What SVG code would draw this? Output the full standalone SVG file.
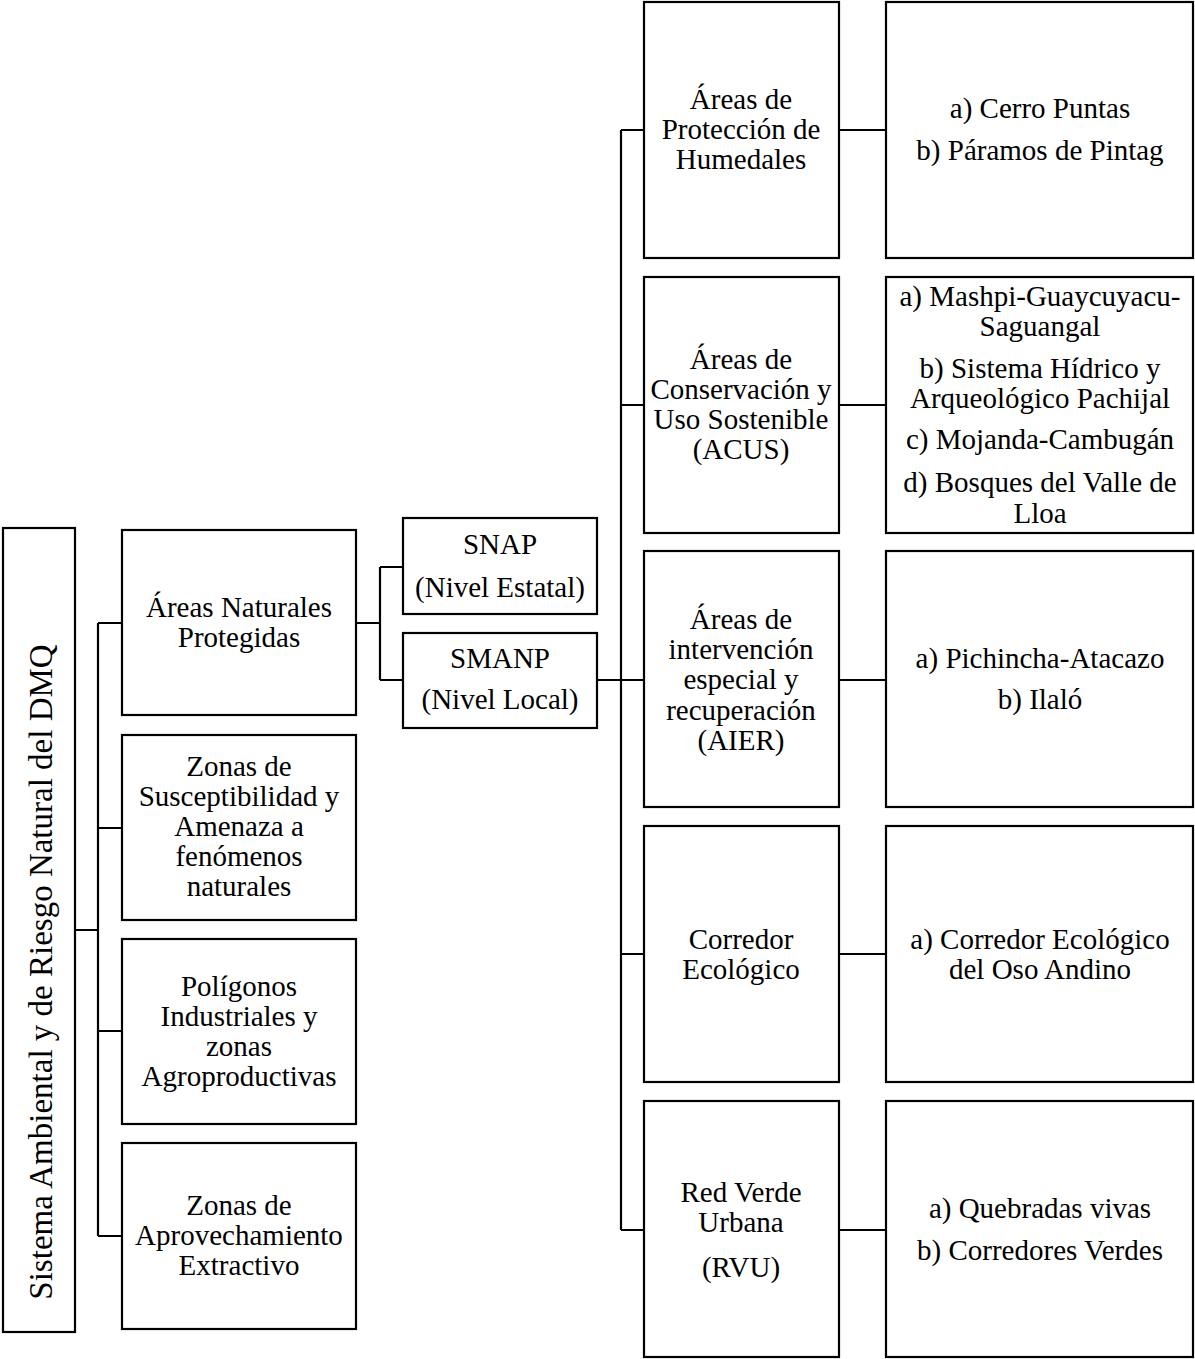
<svg xmlns="http://www.w3.org/2000/svg" width="1195" height="1359" viewBox="0 0 1195 1359">
<style>
rect{fill:#fff;stroke:#000;stroke-width:2.2}
.c path{fill:none;stroke:#000;stroke-width:2.2}
text{font-family:"Liberation Serif","Times New Roman",serif;font-size:29px;fill:#000;text-anchor:middle}
.v{font-size:33px}
</style>
<rect x="0" y="0" width="1195" height="1359" style="stroke:none"/>
<g class="c" id="connectors">
<path d="M75,930H98M98,623V1236M98,623H122M98,828H122M98,1031H122M98,1236H122"/>
<path d="M356,623H380M380,567V680M380,567H403M380,680H403"/>
<path d="M597,680H644M621,130V1230M621,130H644M621,405H644M621,1230H644M621,954H644"/>
<path d="M839,130H886M839,405H886M839,680H886M839,954H886M839,1230H886"/>
</g>
<g id="root"><rect x="3" y="528" width="72" height="804"/><text class="v" transform="translate(52,972) rotate(-90)">Sistema Ambiental y de Riesgo Natural del DMQ</text></g>
<g id="anp"><rect x="122" y="530" width="234" height="185"/><text x="239" y="617">Áreas Naturales</text><text x="239" y="647">Protegidas</text></g>
<g id="zsa"><rect x="122" y="735" width="234" height="185"/><text x="239" y="776">Zonas de</text><text x="239" y="806">Susceptibilidad y</text><text x="239" y="836">Amenaza a</text><text x="239" y="866">fenómenos</text><text x="239" y="896">naturales</text></g>
<g id="pia"><rect x="122" y="939" width="234" height="185"/><text x="239" y="996">Polígonos</text><text x="239" y="1026">Industriales y</text><text x="239" y="1056">zonas</text><text x="239" y="1086">Agroproductivas</text></g>
<g id="zae"><rect x="122" y="1143" width="234" height="186"/><text x="239" y="1215">Zonas de</text><text x="239" y="1245">Aprovechamiento</text><text x="239" y="1275">Extractivo</text></g>
<g id="snap"><rect x="403" y="518" width="194" height="96"/><text x="500" y="554">SNAP</text><text x="500" y="597">(Nivel Estatal)</text></g>
<g id="smanp"><rect x="403" y="633" width="194" height="95"/><text x="500" y="668">SMANP</text><text x="500" y="709">(Nivel Local)</text></g>
<g id="aph"><rect x="644" y="2" width="195" height="256"/><text x="741" y="109">Áreas de</text><text x="741" y="139">Protección de</text><text x="741" y="169">Humedales</text></g>
<g id="acus"><rect x="644" y="277" width="195" height="256"/><text x="741" y="369">Áreas de</text><text x="741" y="399">Conservación y</text><text x="741" y="429">Uso Sostenible</text><text x="741" y="459">(ACUS)</text></g>
<g id="aier"><rect x="644" y="551" width="195" height="256"/><text x="741" y="629">Áreas de</text><text x="741" y="659">intervención</text><text x="741" y="689">especial y</text><text x="741" y="720">recuperación</text><text x="741" y="750">(AIER)</text></g>
<g id="ce"><rect x="644" y="826" width="195" height="256"/><text x="741" y="949">Corredor</text><text x="741" y="979">Ecológico</text></g>
<g id="rvu"><rect x="644" y="1101" width="195" height="256"/><text x="741" y="1202">Red Verde</text><text x="741" y="1232">Urbana</text><text x="741" y="1277">(RVU)</text></g>
<g id="l1"><rect x="886" y="2" width="307" height="256"/><text x="1040" y="118">a) Cerro Puntas</text><text x="1040" y="160">b) Páramos de Pintag</text></g>
<g id="l2"><rect x="886" y="277" width="307" height="256"/><text x="1040" y="306">a) Mashpi-Guaycuyacu-</text><text x="1040" y="336">Saguangal</text><text x="1040" y="378">b) Sistema Hídrico y</text><text x="1040" y="408">Arqueológico Pachijal</text><text x="1040" y="449">c) Mojanda-Cambugán</text><text x="1040" y="492">d) Bosques del Valle de</text><text x="1040" y="523">Lloa</text></g>
<g id="l3"><rect x="886" y="551" width="307" height="256"/><text x="1040" y="668">a) Pichincha-Atacazo</text><text x="1040" y="709">b) Ilaló</text></g>
<g id="l4"><rect x="886" y="826" width="307" height="256"/><text x="1040" y="949">a) Corredor Ecológico</text><text x="1040" y="979">del Oso Andino</text></g>
<g id="l5"><rect x="886" y="1101" width="307" height="256"/><text x="1040" y="1218">a) Quebradas vivas</text><text x="1040" y="1260">b) Corredores Verdes</text></g>
</svg>
